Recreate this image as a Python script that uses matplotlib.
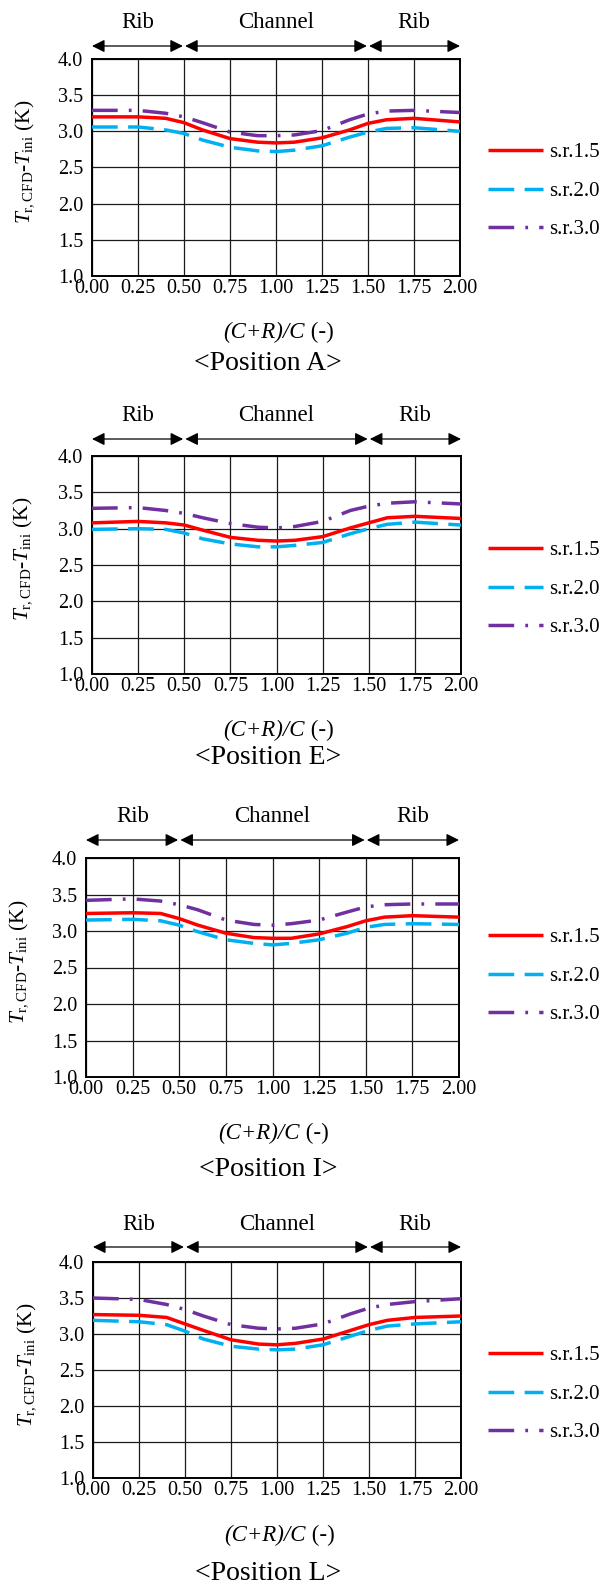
import matplotlib
matplotlib.use("Agg")
import matplotlib.pyplot as plt

plt.rcParams['font.family'] = ['Liberation Serif', 'DejaVu Serif']
plt.rcParams['mathtext.fontset'] = 'custom'
plt.rcParams['mathtext.rm'] = 'Liberation Serif'
plt.rcParams['mathtext.it'] = 'Liberation Serif:italic'
plt.rcParams['lines.scale_dashes'] = False

W, H = 608, 1584

# ---------------- data ----------------
x_pos = [0.0, 0.25, 0.4, 0.5, 0.6, 0.75, 0.9, 1.0, 1.1, 1.25, 1.4, 1.5, 1.6, 1.75, 2.0]

A_sr15 = [3.20, 3.20, 3.18, 3.12, 3.02, 2.90, 2.85, 2.84, 2.85, 2.91, 3.02, 3.11, 3.16, 3.18, 3.13]
A_sr20 = [3.06, 3.06, 3.02, 2.97, 2.88, 2.78, 2.73, 2.72, 2.74, 2.80, 2.92, 2.99, 3.04, 3.05, 3.00]
A_sr30 = [3.29, 3.29, 3.25, 3.20, 3.12, 2.99, 2.94, 2.94, 2.95, 3.01, 3.16, 3.24, 3.28, 3.29, 3.26]

E_sr15 = [3.08, 3.10, 3.08, 3.05, 2.98, 2.88, 2.84, 2.83, 2.84, 2.89, 3.01, 3.08, 3.15, 3.17, 3.14]
E_sr20 = [2.99, 3.00, 2.99, 2.94, 2.86, 2.79, 2.75, 2.75, 2.77, 2.81, 2.93, 3.00, 3.06, 3.09, 3.05]
E_sr30 = [3.28, 3.29, 3.25, 3.21, 3.15, 3.07, 3.02, 3.01, 3.03, 3.10, 3.25, 3.31, 3.35, 3.37, 3.34]

I_sr15 = [3.24, 3.25, 3.24, 3.17, 3.08, 2.97, 2.91, 2.90, 2.90, 2.96, 3.06, 3.14, 3.19, 3.21, 3.19]
I_sr20 = [3.15, 3.16, 3.14, 3.08, 2.99, 2.88, 2.83, 2.81, 2.83, 2.88, 2.97, 3.05, 3.09, 3.10, 3.09]
I_sr30 = [3.42, 3.44, 3.41, 3.36, 3.29, 3.15, 3.09, 3.08, 3.10, 3.15, 3.26, 3.33, 3.36, 3.37, 3.37]

L_sr15 = [3.27, 3.26, 3.23, 3.14, 3.05, 2.92, 2.86, 2.85, 2.87, 2.93, 3.05, 3.13, 3.19, 3.23, 3.25]
L_sr20 = [3.19, 3.17, 3.13, 3.04, 2.93, 2.83, 2.79, 2.78, 2.79, 2.85, 2.97, 3.05, 3.11, 3.14, 3.17]
L_sr30 = [3.50, 3.48, 3.41, 3.34, 3.25, 3.13, 3.08, 3.07, 3.08, 3.14, 3.28, 3.36, 3.41, 3.45, 3.49]

series_labels = ['s.r.1.5', 's.r.2.0', 's.r.3.0']
region_labels = ['Rib', 'Channel', 'Rib']
region_bounds = [(0.0, 0.5), (0.5, 1.5), (1.5, 2.0)]
x_ticks = [0.0, 0.25, 0.5, 0.75, 1.0, 1.25, 1.5, 1.75, 2.0]
y_ticks = [1.0, 1.5, 2.0, 2.5, 3.0, 3.5, 4.0]

panels = [
    dict(name='<Position A>', data=[A_sr15, A_sr20, A_sr30],
         box=(92, 59, 460, 276), reg_y=28, arr_y=46, ylab=(25, 162),
         xl=(305, 332), pos=(268, 363), leg_y=191),
    dict(name='<Position E>', data=[E_sr15, E_sr20, E_sr30],
         box=(92, 456, 461, 674), reg_y=421, arr_y=439, ylab=(23, 559),
         xl=(305, 730), pos=(268, 757), leg_y=589),
    dict(name='<Position I>', data=[I_sr15, I_sr20, I_sr30],
         box=(86, 858, 459, 1077), reg_y=822, arr_y=840, ylab=(19, 962),
         xl=(300, 1133), pos=(268, 1169), leg_y=976),
    dict(name='<Position L>', data=[L_sr15, L_sr20, L_sr30],
         box=(93, 1262, 461, 1478), reg_y=1230, arr_y=1247, ylab=(27, 1365),
         xl=(306, 1535), pos=(268, 1573), leg_y=1394),
]

colors = ['#FF0000', '#00B0F0', '#7030A0']
styles = [dict(linestyle='-'),
          dict(linestyle=(0, (18.5, 7.5))),
          dict(linestyle=(0, (18.5, 8, 2, 8)))]

fig = plt.figure(figsize=(W / 100, H / 100), dpi=100)


def fx(px):
    return px / W


def fy(py):
    return 1 - py / H


for p in panels:
    x0, y0, x1, y1 = p['box']
    ax = fig.add_axes([fx(x0), fy(y1), (x1 - x0) / W, (y1 - y0) / H])
    for vals, c, st, lab in zip(p['data'], colors, styles, series_labels):
        ax.plot(x_pos, vals, color=c, lw=2.5, label=lab, solid_capstyle='butt',
                dash_capstyle='butt', **st, zorder=3)
    ax.set_xlim(0, 2)
    ax.set_ylim(1, 4)
    ax.set_xticks(x_ticks)
    ax.set_yticks(y_ticks)
    ax.set_xticklabels([f'{v:.2f}' for v in x_ticks])
    ax.set_yticklabels([f'{v:.1f}' for v in y_ticks])
    ax.tick_params(axis='both', length=0, labelsize=14.5, colors='black')
    ax.tick_params(axis='x', pad=2.5)
    ax.tick_params(axis='y', pad=6.5)
    ax.grid(True, color='#1a1a1a', lw=0.9, zorder=1)
    for s in ax.spines.values():
        s.set_color('black')
        s.set_linewidth(1.4)

    # region arrows and labels
    tr = ax.get_xaxis_transform()
    ay = 1 + (y0 - p['arr_y']) / (y1 - y0)
    ry = 1 + (y0 - p['reg_y']) / (y1 - y0)
    gaps = [(0.0, -0.006), (0.006, -0.006), (0.006, 0.0)]
    for (a, b), lab, (ga, gb) in zip(region_bounds, region_labels, gaps):
        ax.annotate('', xy=(b + gb, ay), xytext=(a + ga, ay), xycoords=tr,
                    textcoords=tr, annotation_clip=False,
                    arrowprops=dict(arrowstyle='<|-|>,head_length=0.4,head_width=0.2',
                                    color='black', lw=0.9,
                                    shrinkA=0, shrinkB=0, mutation_scale=19))
        ax.text((a + b) / 2, ry, lab, transform=tr, ha='center', va='baseline',
                fontsize=16.5)

    # y label
    fig.text(fx(p['ylab'][0]), fy(p['ylab'][1]),
             r'$T_{\mathrm{r,CFD}}$-$T_{\mathrm{ini}}$ (K)',
             rotation=90, ha='center', va='center', fontsize=15.5)
    # x label (italic part + roman part)
    fig.text(fx(p['xl'][0]), fy(p['xl'][1]), '(C+R)/C', style='italic',
             ha='right', va='center', fontsize=16.5)
    fig.text(fx(p['xl'][0]), fy(p['xl'][1]), ' (-)', ha='left', va='center',
             fontsize=16.5)
    # position title
    fig.text(fx(p['pos'][0]), fy(p['pos'][1]), p['name'], ha='center',
             va='center', fontsize=20)

    # legend
    ax.legend(loc='center left', bbox_to_anchor=(fx(488), fy(p['leg_y'])),
              bbox_transform=fig.transFigure, frameon=False, fontsize=15,
              handlelength=2.65, handletextpad=0.27, labelspacing=0.91,
              borderpad=0, borderaxespad=0)

fig.savefig('out.png', dpi=100)
